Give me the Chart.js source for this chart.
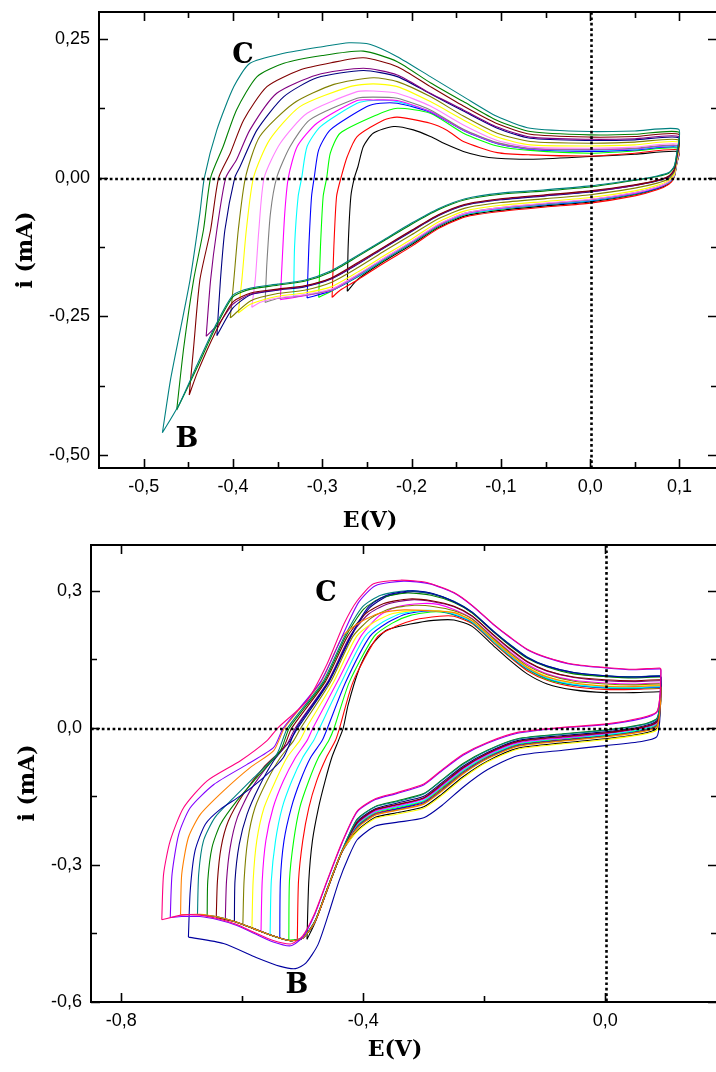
<!DOCTYPE html>
<html><head><meta charset="utf-8">
<script src="https://cdn.jsdelivr.net/npm/chart.js@4.4.1/dist/chart.umd.min.js"></script>
<style>
html,body{margin:0;padding:0;background:#fff;width:716px;height:1072px;overflow:hidden;}
canvas{position:absolute;left:0;}
#c1{top:0;} #c2{top:536px;}
</style></head><body>
<canvas id="c1" width="740" height="536"></canvas>
<canvas id="c2" width="740" height="536"></canvas>
<script>
// ---------- tick labels ----------
const topXTicks = [-0.5,-0.4,-0.3,-0.2,-0.1,0.0,0.1];
const topXMinor = [-0.45,-0.35,-0.25,-0.15,-0.05,0.05];
const topYTicks = [0.25,0.0,-0.25,-0.5];
const topYMinor = [0.125,-0.125,-0.375];
const botXTicks = [-0.8,-0.4,0.0];
const botXMinor = [-0.6,-0.2];
const botYTicks = [0.3,0.0,-0.3,-0.6];
const botYMinor = [0.15,-0.15,-0.45];

// ---------- top panel curves [E (V), i (mA)] ----------
const topTeal = [[-0.479,-0.460],[-0.470,-0.365],[-0.459,-0.275],[-0.448,-0.184],[-0.437,-0.064],[-0.432,0.000],[-0.418,0.086],[-0.399,0.164],[-0.381,0.206],[-0.343,0.224],[-0.300,0.236],[-0.270,0.243],[-0.246,0.240],[-0.216,0.218],[-0.179,0.182],[-0.142,0.146],[-0.104,0.110],[-0.067,0.089],[0.000,0.083],[0.050,0.084],[0.099,0.087],[0.097,0.045],[0.094,0.020],[0.088,0.009],[0.075,0.003],[0.050,-0.004],[0.000,-0.015],[-0.050,-0.022],[-0.100,-0.028],[-0.140,-0.038],[-0.170,-0.056],[-0.200,-0.082],[-0.230,-0.111],[-0.260,-0.140],[-0.290,-0.168],[-0.320,-0.185],[-0.350,-0.192],[-0.380,-0.199],[-0.400,-0.212],[-0.420,-0.268],[-0.440,-0.337],[-0.460,-0.408],[-0.479,-0.460]];
const topGreen = [[-0.463,-0.419],[-0.455,-0.305],[-0.444,-0.184],[-0.433,-0.094],[-0.425,0.000],[-0.411,0.056],[-0.396,0.122],[-0.373,0.182],[-0.343,0.206],[-0.300,0.220],[-0.254,0.228],[-0.216,0.209],[-0.179,0.171],[-0.142,0.137],[-0.104,0.103],[-0.067,0.083],[0.000,0.077],[0.050,0.078],[0.099,0.082],[0.097,0.044],[0.094,0.019],[0.088,0.008],[0.075,0.002],[0.050,-0.005],[0.000,-0.017],[-0.050,-0.024],[-0.100,-0.030],[-0.140,-0.040],[-0.170,-0.058],[-0.200,-0.084],[-0.230,-0.113],[-0.260,-0.142],[-0.290,-0.170],[-0.320,-0.187],[-0.350,-0.194],[-0.380,-0.201],[-0.400,-0.215],[-0.420,-0.272],[-0.440,-0.342],[-0.463,-0.419]];
const topWine = [[-0.449,-0.392],[-0.444,-0.305],[-0.437,-0.184],[-0.425,-0.094],[-0.416,0.000],[-0.403,0.044],[-0.388,0.104],[-0.362,0.164],[-0.325,0.194],[-0.290,0.207],[-0.254,0.216],[-0.216,0.200],[-0.179,0.164],[-0.142,0.129],[-0.104,0.097],[-0.067,0.078],[0.000,0.073],[0.050,0.074],[0.099,0.078],[0.097,0.039],[0.094,0.014],[0.088,0.003],[0.075,-0.005],[0.050,-0.013],[0.000,-0.024],[-0.050,-0.031],[-0.100,-0.038],[-0.140,-0.048],[-0.170,-0.067],[-0.200,-0.095],[-0.230,-0.124],[-0.260,-0.153],[-0.290,-0.181],[-0.320,-0.195],[-0.350,-0.201],[-0.380,-0.208],[-0.400,-0.224],[-0.420,-0.280],[-0.440,-0.352],[-0.449,-0.392]];
const topPurple = [[-0.430,-0.286],[-0.425,-0.184],[-0.418,-0.094],[-0.408,0.000],[-0.396,0.032],[-0.381,0.086],[-0.351,0.152],[-0.306,0.185],[-0.254,0.197],[-0.216,0.185],[-0.179,0.152],[-0.142,0.122],[-0.104,0.091],[-0.067,0.073],[0.000,0.069],[0.050,0.070],[0.099,0.074],[0.097,0.038],[0.094,0.013],[0.088,0.002],[0.075,-0.005],[0.050,-0.014],[0.000,-0.025],[-0.050,-0.032],[-0.100,-0.039],[-0.140,-0.049],[-0.170,-0.068],[-0.200,-0.096],[-0.230,-0.125],[-0.260,-0.155],[-0.290,-0.182],[-0.320,-0.196],[-0.350,-0.202],[-0.380,-0.210],[-0.400,-0.228],[-0.415,-0.262],[-0.430,-0.286]];
const topNavy = [[-0.418,-0.285],[-0.414,-0.184],[-0.409,-0.094],[-0.398,0.000],[-0.392,0.020],[-0.373,0.086],[-0.343,0.146],[-0.306,0.180],[-0.254,0.193],[-0.216,0.182],[-0.179,0.151],[-0.142,0.120],[-0.104,0.089],[-0.067,0.071],[0.000,0.067],[0.050,0.068],[0.099,0.072],[0.097,0.038],[0.094,0.013],[0.088,0.001],[0.075,-0.006],[0.050,-0.014],[0.000,-0.026],[-0.050,-0.033],[-0.100,-0.040],[-0.140,-0.050],[-0.170,-0.069],[-0.200,-0.097],[-0.230,-0.126],[-0.260,-0.156],[-0.290,-0.183],[-0.320,-0.197],[-0.350,-0.203],[-0.380,-0.211],[-0.400,-0.235],[-0.418,-0.285]];
const topOlive = [[-0.403,-0.253],[-0.399,-0.184],[-0.394,-0.094],[-0.386,0.000],[-0.370,0.074],[-0.332,0.134],[-0.287,0.168],[-0.243,0.180],[-0.216,0.173],[-0.179,0.146],[-0.142,0.111],[-0.104,0.080],[-0.067,0.065],[0.000,0.062],[0.050,0.064],[0.099,0.068],[0.097,0.035],[0.094,0.010],[0.088,-0.002],[0.075,-0.010],[0.050,-0.019],[0.000,-0.031],[-0.050,-0.038],[-0.100,-0.045],[-0.140,-0.055],[-0.170,-0.074],[-0.200,-0.103],[-0.230,-0.132],[-0.260,-0.162],[-0.290,-0.189],[-0.320,-0.203],[-0.350,-0.209],[-0.380,-0.222],[-0.403,-0.253]];
const topYellow = [[-0.394,-0.244],[-0.390,-0.184],[-0.385,-0.094],[-0.377,0.000],[-0.359,0.068],[-0.325,0.128],[-0.269,0.164],[-0.243,0.169],[-0.216,0.164],[-0.179,0.137],[-0.142,0.104],[-0.104,0.073],[-0.067,0.059],[0.000,0.057],[0.050,0.059],[0.099,0.064],[0.097,0.031],[0.094,0.006],[0.088,-0.005],[0.075,-0.014],[0.050,-0.024],[0.000,-0.036],[-0.050,-0.043],[-0.100,-0.050],[-0.140,-0.060],[-0.170,-0.080],[-0.200,-0.111],[-0.230,-0.140],[-0.260,-0.170],[-0.290,-0.197],[-0.320,-0.208],[-0.350,-0.214],[-0.380,-0.228],[-0.394,-0.244]];
const topPink = [[-0.379,-0.234],[-0.375,-0.184],[-0.371,-0.094],[-0.365,0.000],[-0.347,0.062],[-0.317,0.116],[-0.261,0.155],[-0.243,0.156],[-0.216,0.152],[-0.179,0.129],[-0.142,0.095],[-0.104,0.067],[-0.067,0.055],[0.000,0.053],[0.050,0.055],[0.099,0.060],[0.097,0.029],[0.094,0.004],[0.088,-0.007],[0.075,-0.017],[0.050,-0.027],[0.000,-0.039],[-0.050,-0.046],[-0.100,-0.054],[-0.140,-0.064],[-0.170,-0.084],[-0.200,-0.115],[-0.230,-0.144],[-0.260,-0.174],[-0.290,-0.201],[-0.320,-0.211],[-0.350,-0.217],[-0.370,-0.225],[-0.379,-0.234]];
const topGray = [[-0.364,-0.225],[-0.362,-0.154],[-0.358,-0.064],[-0.351,0.000],[-0.336,0.056],[-0.314,0.104],[-0.261,0.143],[-0.243,0.145],[-0.216,0.143],[-0.179,0.122],[-0.142,0.087],[-0.104,0.063],[-0.067,0.053],[0.000,0.051],[0.050,0.053],[0.099,0.058],[0.097,0.029],[0.094,0.004],[0.088,-0.008],[0.075,-0.017],[0.050,-0.027],[0.000,-0.040],[-0.050,-0.047],[-0.100,-0.054],[-0.140,-0.064],[-0.170,-0.085],[-0.200,-0.116],[-0.230,-0.145],[-0.260,-0.175],[-0.290,-0.202],[-0.320,-0.212],[-0.350,-0.218],[-0.364,-0.225]];
const topMagenta = [[-0.347,-0.220],[-0.345,-0.154],[-0.342,-0.064],[-0.338,0.000],[-0.328,0.056],[-0.306,0.098],[-0.261,0.139],[-0.243,0.140],[-0.216,0.139],[-0.179,0.119],[-0.142,0.086],[-0.104,0.062],[-0.067,0.052],[0.000,0.050],[0.050,0.052],[0.099,0.057],[0.097,0.029],[0.094,0.004],[0.088,-0.008],[0.075,-0.018],[0.050,-0.028],[0.000,-0.040],[-0.050,-0.047],[-0.100,-0.055],[-0.140,-0.065],[-0.170,-0.086],[-0.200,-0.116],[-0.230,-0.145],[-0.260,-0.176],[-0.290,-0.203],[-0.320,-0.213],[-0.347,-0.220]];
const topCyan = [[-0.332,-0.216],[-0.331,-0.124],[-0.327,-0.034],[-0.323,0.000],[-0.317,0.056],[-0.302,0.092],[-0.261,0.134],[-0.243,0.139],[-0.216,0.137],[-0.179,0.119],[-0.142,0.086],[-0.104,0.062],[-0.067,0.052],[0.000,0.049],[0.050,0.051],[0.099,0.056],[0.097,0.028],[0.094,0.003],[0.088,-0.009],[0.075,-0.018],[0.050,-0.028],[0.000,-0.041],[-0.050,-0.048],[-0.100,-0.056],[-0.140,-0.066],[-0.170,-0.086],[-0.200,-0.117],[-0.230,-0.146],[-0.260,-0.177],[-0.290,-0.203],[-0.320,-0.212],[-0.332,-0.216]];
const topBlue = [[-0.317,-0.217],[-0.315,-0.124],[-0.312,-0.034],[-0.309,0.000],[-0.304,0.050],[-0.291,0.086],[-0.250,0.128],[-0.235,0.134],[-0.216,0.134],[-0.179,0.118],[-0.142,0.085],[-0.104,0.061],[-0.067,0.051],[0.000,0.047],[0.050,0.050],[0.099,0.055],[0.097,0.028],[0.094,0.003],[0.088,-0.009],[0.075,-0.019],[0.050,-0.029],[0.000,-0.042],[-0.050,-0.049],[-0.100,-0.056],[-0.140,-0.066],[-0.170,-0.087],[-0.200,-0.118],[-0.230,-0.147],[-0.260,-0.178],[-0.290,-0.204],[-0.317,-0.217]];
const topLime = [[-0.304,-0.216],[-0.302,-0.124],[-0.299,-0.034],[-0.295,0.000],[-0.291,0.044],[-0.280,0.080],[-0.239,0.113],[-0.216,0.125],[-0.179,0.116],[-0.142,0.080],[-0.104,0.057],[-0.067,0.049],[0.000,0.044],[0.050,0.048],[0.099,0.053],[0.097,0.027],[0.094,0.002],[0.088,-0.009],[0.075,-0.019],[0.050,-0.030],[0.000,-0.042],[-0.050,-0.049],[-0.100,-0.057],[-0.140,-0.067],[-0.170,-0.088],[-0.200,-0.119],[-0.230,-0.148],[-0.260,-0.179],[-0.290,-0.205],[-0.304,-0.216]];
const topRed = [[-0.289,-0.216],[-0.287,-0.124],[-0.284,-0.034],[-0.279,0.000],[-0.272,0.038],[-0.261,0.074],[-0.231,0.104],[-0.216,0.109],[-0.179,0.098],[-0.160,0.085],[-0.142,0.065],[-0.104,0.045],[-0.067,0.041],[0.000,0.039],[0.050,0.044],[0.099,0.050],[0.097,0.025],[0.094,0.000],[0.088,-0.012],[0.075,-0.022],[0.050,-0.033],[0.000,-0.046],[-0.050,-0.053],[-0.100,-0.061],[-0.140,-0.071],[-0.170,-0.092],[-0.200,-0.124],[-0.230,-0.153],[-0.260,-0.184],[-0.280,-0.203],[-0.289,-0.216]];
const topBlack = [[-0.272,-0.205],[-0.271,-0.124],[-0.268,-0.034],[-0.264,0.000],[-0.260,0.020],[-0.254,0.056],[-0.243,0.080],[-0.220,0.092],[-0.198,0.086],[-0.179,0.074],[-0.160,0.059],[-0.142,0.047],[-0.123,0.039],[-0.104,0.035],[-0.067,0.033],[0.000,0.038],[0.050,0.042],[0.099,0.047],[0.097,0.026],[0.094,0.001],[0.088,-0.011],[0.075,-0.020],[0.050,-0.031],[0.000,-0.044],[-0.050,-0.051],[-0.100,-0.059],[-0.140,-0.069],[-0.170,-0.090],[-0.200,-0.121],[-0.230,-0.150],[-0.260,-0.183],[-0.272,-0.205]];
const topCurves = [topTeal, topGreen, topWine, topPurple, topNavy, topOlive, topYellow, topPink, topGray, topMagenta, topCyan, topBlue, topLime, topRed, topBlack];
const topColors = ['#008080','#008000','#800000','#800080','#000080','#808000','#ffff00','#ff80ff','#808080','#ff00ff','#00ffff','#0000ff','#00ff00','#ff0000','#000000'];

// ---------- bottom panel curves [E (V), i (mA)] ----------
const botPink = [[-0.733,-0.420],[-0.730,-0.320],[-0.719,-0.247],[-0.697,-0.175],[-0.658,-0.116],[-0.603,-0.072],[-0.559,-0.028],[-0.541,0.000],[-0.493,0.059],[-0.460,0.139],[-0.432,0.227],[-0.410,0.278],[-0.383,0.315],[-0.339,0.323],[-0.295,0.318],[-0.250,0.296],[-0.220,0.268],[-0.185,0.227],[-0.157,0.198],[-0.129,0.172],[-0.096,0.154],[-0.052,0.139],[0.000,0.132],[0.047,0.128],[0.090,0.131],[0.092,0.128],[0.090,0.065],[0.085,0.035],[0.060,0.022],[0.000,0.008],[-0.070,0.001],[-0.145,-0.010],[-0.195,-0.032],[-0.235,-0.058],[-0.270,-0.092],[-0.300,-0.123],[-0.345,-0.142],[-0.380,-0.155],[-0.410,-0.182],[-0.435,-0.250],[-0.460,-0.335],[-0.480,-0.405],[-0.500,-0.455],[-0.520,-0.473],[-0.550,-0.465],[-0.580,-0.448],[-0.610,-0.430],[-0.640,-0.418],[-0.670,-0.410],[-0.700,-0.410],[-0.733,-0.420]];
const botViolet = [[-0.719,-0.415],[-0.716,-0.320],[-0.705,-0.233],[-0.686,-0.175],[-0.647,-0.124],[-0.592,-0.080],[-0.548,-0.043],[-0.532,0.000],[-0.471,0.100],[-0.435,0.200],[-0.408,0.274],[-0.380,0.311],[-0.333,0.321],[-0.290,0.315],[-0.250,0.295],[-0.220,0.267],[-0.185,0.226],[-0.157,0.197],[-0.129,0.171],[-0.096,0.153],[-0.052,0.138],[0.000,0.131],[0.047,0.127],[0.090,0.129],[0.092,0.126],[0.090,0.063],[0.085,0.033],[0.060,0.020],[0.000,0.007],[-0.070,0.000],[-0.145,-0.012],[-0.195,-0.034],[-0.235,-0.060],[-0.270,-0.094],[-0.300,-0.125],[-0.345,-0.144],[-0.380,-0.157],[-0.410,-0.184],[-0.435,-0.252],[-0.460,-0.337],[-0.480,-0.408],[-0.500,-0.458],[-0.520,-0.477],[-0.550,-0.468],[-0.580,-0.450],[-0.610,-0.432],[-0.640,-0.420],[-0.670,-0.413],[-0.700,-0.413],[-0.719,-0.415]];
const botOrange = [[-0.702,-0.409],[-0.700,-0.320],[-0.689,-0.240],[-0.669,-0.189],[-0.631,-0.138],[-0.587,-0.087],[-0.548,-0.050],[-0.530,0.000],[-0.470,0.100],[-0.434,0.200],[-0.404,0.232],[-0.374,0.250],[-0.332,0.258],[-0.290,0.256],[-0.250,0.252],[-0.220,0.234],[-0.185,0.192],[-0.157,0.160],[-0.129,0.132],[-0.096,0.111],[-0.052,0.098],[0.000,0.091],[0.047,0.090],[0.090,0.092],[0.092,0.089],[0.090,0.032],[0.085,0.002],[0.060,-0.009],[0.000,-0.020],[-0.070,-0.029],[-0.145,-0.041],[-0.195,-0.068],[-0.235,-0.101],[-0.270,-0.139],[-0.300,-0.167],[-0.345,-0.181],[-0.380,-0.191],[-0.410,-0.220],[-0.435,-0.270],[-0.460,-0.355],[-0.480,-0.425],[-0.500,-0.460],[-0.520,-0.466],[-0.550,-0.455],[-0.580,-0.440],[-0.610,-0.425],[-0.640,-0.414],[-0.670,-0.408],[-0.702,-0.409]];
const botRoyal = [[-0.689,-0.458],[-0.686,-0.357],[-0.678,-0.269],[-0.661,-0.211],[-0.636,-0.178],[-0.603,-0.149],[-0.565,-0.109],[-0.532,-0.065],[-0.510,0.000],[-0.458,0.100],[-0.421,0.200],[-0.391,0.265],[-0.361,0.290],[-0.319,0.300],[-0.285,0.294],[-0.250,0.276],[-0.220,0.253],[-0.185,0.211],[-0.157,0.181],[-0.129,0.154],[-0.096,0.135],[-0.052,0.121],[0.000,0.114],[0.047,0.111],[0.090,0.113],[0.092,0.110],[0.090,0.015],[0.085,-0.020],[0.060,-0.030],[0.000,-0.039],[-0.070,-0.049],[-0.145,-0.061],[-0.195,-0.092],[-0.235,-0.130],[-0.270,-0.170],[-0.300,-0.197],[-0.345,-0.207],[-0.380,-0.215],[-0.410,-0.245],[-0.425,-0.285],[-0.440,-0.335],[-0.458,-0.410],[-0.475,-0.475],[-0.495,-0.515],[-0.512,-0.527],[-0.537,-0.522],[-0.576,-0.503],[-0.631,-0.472],[-0.689,-0.458]];
const botTeal = [[-0.674,-0.408],[-0.672,-0.320],[-0.664,-0.247],[-0.645,-0.196],[-0.614,-0.153],[-0.581,-0.109],[-0.543,-0.058],[-0.525,0.000],[-0.467,0.100],[-0.431,0.200],[-0.401,0.265],[-0.371,0.290],[-0.329,0.300],[-0.290,0.295],[-0.250,0.277],[-0.220,0.253],[-0.185,0.212],[-0.157,0.182],[-0.129,0.155],[-0.096,0.135],[-0.052,0.121],[0.000,0.114],[0.047,0.112],[0.090,0.114],[0.092,0.111],[0.090,0.049],[0.085,0.019],[0.060,0.006],[0.000,-0.006],[-0.070,-0.014],[-0.145,-0.025],[-0.195,-0.050],[-0.235,-0.080],[-0.270,-0.115],[-0.300,-0.145],[-0.345,-0.162],[-0.380,-0.173],[-0.410,-0.201],[-0.435,-0.268],[-0.460,-0.353],[-0.480,-0.423],[-0.500,-0.459],[-0.520,-0.466],[-0.550,-0.455],[-0.580,-0.440],[-0.610,-0.425],[-0.640,-0.414],[-0.674,-0.408]];
const botDkGreen = [[-0.658,-0.411],[-0.657,-0.335],[-0.650,-0.262],[-0.636,-0.211],[-0.609,-0.160],[-0.576,-0.109],[-0.537,-0.050],[-0.522,0.000],[-0.465,0.100],[-0.429,0.200],[-0.399,0.260],[-0.369,0.285],[-0.327,0.295],[-0.288,0.290],[-0.250,0.274],[-0.220,0.251],[-0.185,0.210],[-0.157,0.179],[-0.129,0.152],[-0.096,0.133],[-0.052,0.118],[0.000,0.112],[0.047,0.109],[0.090,0.111],[0.092,0.108],[0.090,0.050],[0.085,0.020],[0.060,0.007],[0.000,-0.005],[-0.070,-0.013],[-0.145,-0.024],[-0.195,-0.049],[-0.235,-0.078],[-0.270,-0.114],[-0.300,-0.144],[-0.345,-0.160],[-0.380,-0.172],[-0.410,-0.200],[-0.435,-0.269],[-0.460,-0.354],[-0.480,-0.424],[-0.500,-0.460],[-0.520,-0.466],[-0.550,-0.455],[-0.580,-0.440],[-0.610,-0.425],[-0.640,-0.414],[-0.658,-0.411]];
const botWine = [[-0.643,-0.415],[-0.641,-0.335],[-0.635,-0.262],[-0.623,-0.204],[-0.598,-0.145],[-0.565,-0.087],[-0.532,-0.043],[-0.518,0.000],[-0.463,0.100],[-0.426,0.200],[-0.396,0.250],[-0.366,0.272],[-0.324,0.282],[-0.287,0.278],[-0.250,0.266],[-0.220,0.245],[-0.185,0.204],[-0.157,0.173],[-0.129,0.145],[-0.096,0.125],[-0.052,0.111],[0.000,0.105],[0.047,0.103],[0.090,0.105],[0.092,0.102],[0.090,0.043],[0.085,0.013],[0.060,0.001],[0.000,-0.011],[-0.070,-0.019],[-0.145,-0.030],[-0.195,-0.056],[-0.235,-0.087],[-0.270,-0.123],[-0.300,-0.153],[-0.345,-0.168],[-0.380,-0.179],[-0.410,-0.207],[-0.435,-0.270],[-0.460,-0.355],[-0.480,-0.425],[-0.500,-0.460],[-0.520,-0.466],[-0.550,-0.455],[-0.580,-0.440],[-0.610,-0.425],[-0.643,-0.415]];
const botPurple = [[-0.628,-0.419],[-0.626,-0.335],[-0.620,-0.262],[-0.608,-0.196],[-0.587,-0.138],[-0.556,-0.080],[-0.526,-0.036],[-0.512,0.000],[-0.459,0.100],[-0.422,0.200],[-0.392,0.248],[-0.362,0.270],[-0.320,0.280],[-0.285,0.276],[-0.250,0.265],[-0.220,0.244],[-0.185,0.203],[-0.157,0.171],[-0.129,0.144],[-0.096,0.124],[-0.052,0.110],[0.000,0.103],[0.047,0.101],[0.090,0.103],[0.092,0.100],[0.090,0.042],[0.085,0.012],[0.060,0.000],[0.000,-0.012],[-0.070,-0.020],[-0.145,-0.031],[-0.195,-0.057],[-0.235,-0.088],[-0.270,-0.125],[-0.300,-0.154],[-0.345,-0.169],[-0.380,-0.180],[-0.410,-0.209],[-0.435,-0.270],[-0.460,-0.355],[-0.480,-0.425],[-0.500,-0.460],[-0.520,-0.466],[-0.550,-0.455],[-0.580,-0.440],[-0.610,-0.425],[-0.628,-0.419]];
const botNavy = [[-0.613,-0.424],[-0.612,-0.335],[-0.605,-0.255],[-0.592,-0.189],[-0.573,-0.131],[-0.548,-0.072],[-0.521,-0.028],[-0.508,0.000],[-0.457,0.100],[-0.420,0.200],[-0.390,0.262],[-0.360,0.288],[-0.318,0.298],[-0.284,0.292],[-0.250,0.276],[-0.220,0.252],[-0.185,0.211],[-0.157,0.181],[-0.129,0.154],[-0.096,0.134],[-0.052,0.120],[0.000,0.113],[0.047,0.111],[0.090,0.113],[0.092,0.110],[0.090,0.045],[0.085,0.015],[0.060,0.003],[0.000,-0.009],[-0.070,-0.017],[-0.145,-0.028],[-0.195,-0.054],[-0.235,-0.084],[-0.270,-0.120],[-0.300,-0.150],[-0.345,-0.165],[-0.380,-0.177],[-0.410,-0.205],[-0.435,-0.270],[-0.460,-0.355],[-0.480,-0.425],[-0.500,-0.460],[-0.520,-0.466],[-0.550,-0.455],[-0.580,-0.440],[-0.613,-0.424]];
const botDkYellow = [[-0.599,-0.431],[-0.597,-0.335],[-0.591,-0.247],[-0.579,-0.175],[-0.559,-0.116],[-0.537,-0.065],[-0.515,-0.028],[-0.503,0.000],[-0.454,0.100],[-0.417,0.200],[-0.387,0.240],[-0.357,0.260],[-0.315,0.268],[-0.282,0.265],[-0.250,0.256],[-0.220,0.238],[-0.185,0.196],[-0.157,0.164],[-0.129,0.136],[-0.096,0.116],[-0.052,0.102],[0.000,0.096],[0.047,0.094],[0.090,0.096],[0.092,0.093],[0.090,0.033],[0.085,0.003],[0.060,-0.008],[0.000,-0.019],[-0.070,-0.028],[-0.145,-0.040],[-0.195,-0.067],[-0.235,-0.100],[-0.270,-0.137],[-0.300,-0.166],[-0.345,-0.180],[-0.380,-0.190],[-0.410,-0.219],[-0.435,-0.270],[-0.460,-0.355],[-0.480,-0.425],[-0.500,-0.460],[-0.520,-0.466],[-0.550,-0.455],[-0.580,-0.440],[-0.599,-0.431]];
const botYellow = [[-0.584,-0.438],[-0.582,-0.335],[-0.576,-0.247],[-0.564,-0.175],[-0.545,-0.116],[-0.526,-0.065],[-0.505,-0.028],[-0.494,0.000],[-0.449,0.100],[-0.411,0.200],[-0.381,0.232],[-0.351,0.250],[-0.309,0.257],[-0.280,0.256],[-0.250,0.252],[-0.220,0.234],[-0.185,0.193],[-0.157,0.161],[-0.129,0.133],[-0.096,0.112],[-0.052,0.098],[0.000,0.092],[0.047,0.091],[0.090,0.093],[0.092,0.090],[0.090,0.025],[0.085,-0.005],[0.060,-0.015],[0.000,-0.026],[-0.070,-0.035],[-0.145,-0.047],[-0.195,-0.075],[-0.235,-0.110],[-0.270,-0.148],[-0.300,-0.176],[-0.345,-0.189],[-0.380,-0.198],[-0.410,-0.227],[-0.435,-0.270],[-0.460,-0.355],[-0.480,-0.425],[-0.500,-0.460],[-0.520,-0.466],[-0.550,-0.455],[-0.584,-0.438]];
const botMagenta = [[-0.569,-0.446],[-0.567,-0.335],[-0.561,-0.247],[-0.549,-0.175],[-0.532,-0.116],[-0.512,-0.065],[-0.493,-0.028],[-0.483,0.000],[-0.443,0.100],[-0.404,0.200],[-0.374,0.245],[-0.344,0.265],[-0.302,0.272],[-0.276,0.270],[-0.250,0.259],[-0.220,0.239],[-0.185,0.198],[-0.157,0.166],[-0.129,0.139],[-0.096,0.118],[-0.052,0.104],[0.000,0.098],[0.047,0.096],[0.090,0.098],[0.092,0.095],[0.090,0.040],[0.085,0.010],[0.060,-0.001],[0.000,-0.013],[-0.070,-0.022],[-0.145,-0.033],[-0.195,-0.059],[-0.235,-0.090],[-0.270,-0.127],[-0.300,-0.156],[-0.345,-0.171],[-0.380,-0.182],[-0.410,-0.210],[-0.435,-0.270],[-0.460,-0.355],[-0.480,-0.425],[-0.500,-0.460],[-0.520,-0.466],[-0.550,-0.455],[-0.569,-0.446]];
const botCyan = [[-0.554,-0.454],[-0.552,-0.335],[-0.545,-0.247],[-0.534,-0.175],[-0.518,-0.116],[-0.500,-0.065],[-0.482,-0.028],[-0.472,0.000],[-0.436,0.100],[-0.397,0.200],[-0.367,0.232],[-0.337,0.250],[-0.295,0.257],[-0.272,0.255],[-0.250,0.249],[-0.220,0.232],[-0.185,0.190],[-0.157,0.158],[-0.129,0.130],[-0.096,0.109],[-0.052,0.095],[0.000,0.089],[0.047,0.088],[0.090,0.090],[0.092,0.087],[0.090,0.039],[0.085,0.009],[0.060,-0.003],[0.000,-0.015],[-0.070,-0.023],[-0.145,-0.035],[-0.195,-0.061],[-0.235,-0.093],[-0.270,-0.129],[-0.300,-0.159],[-0.345,-0.173],[-0.380,-0.184],[-0.410,-0.212],[-0.435,-0.270],[-0.460,-0.355],[-0.480,-0.425],[-0.500,-0.460],[-0.520,-0.466],[-0.554,-0.454]];
const botBlue = [[-0.538,-0.460],[-0.537,-0.335],[-0.531,-0.247],[-0.519,-0.175],[-0.504,-0.116],[-0.487,-0.065],[-0.468,-0.028],[-0.459,0.000],[-0.429,0.100],[-0.389,0.200],[-0.359,0.231],[-0.329,0.249],[-0.287,0.256],[-0.268,0.254],[-0.250,0.248],[-0.220,0.231],[-0.185,0.189],[-0.157,0.157],[-0.129,0.129],[-0.096,0.108],[-0.052,0.094],[0.000,0.088],[0.047,0.087],[0.090,0.089],[0.092,0.086],[0.090,0.034],[0.085,0.004],[0.060,-0.007],[0.000,-0.018],[-0.070,-0.027],[-0.145,-0.039],[-0.195,-0.066],[-0.235,-0.098],[-0.270,-0.136],[-0.300,-0.164],[-0.345,-0.178],[-0.380,-0.189],[-0.410,-0.217],[-0.435,-0.270],[-0.460,-0.355],[-0.480,-0.425],[-0.500,-0.460],[-0.520,-0.466],[-0.538,-0.460]];
const botLime = [[-0.523,-0.465],[-0.522,-0.335],[-0.515,-0.247],[-0.505,-0.175],[-0.490,-0.116],[-0.474,-0.065],[-0.457,-0.028],[-0.448,0.000],[-0.423,0.100],[-0.382,0.200],[-0.352,0.229],[-0.322,0.246],[-0.280,0.254],[-0.250,0.247],[-0.220,0.230],[-0.185,0.188],[-0.157,0.156],[-0.129,0.128],[-0.096,0.106],[-0.052,0.093],[0.000,0.087],[0.047,0.086],[0.090,0.088],[0.092,0.085],[0.090,0.038],[0.085,0.008],[0.060,-0.004],[0.000,-0.016],[-0.070,-0.024],[-0.145,-0.036],[-0.195,-0.062],[-0.235,-0.094],[-0.270,-0.131],[-0.300,-0.160],[-0.345,-0.175],[-0.380,-0.185],[-0.410,-0.214],[-0.435,-0.270],[-0.460,-0.355],[-0.480,-0.425],[-0.500,-0.460],[-0.523,-0.465]];
const botRed = [[-0.509,-0.465],[-0.507,-0.335],[-0.500,-0.247],[-0.490,-0.175],[-0.477,-0.116],[-0.461,-0.065],[-0.446,-0.028],[-0.439,0.000],[-0.417,0.100],[-0.376,0.200],[-0.346,0.222],[-0.316,0.236],[-0.274,0.244],[-0.250,0.244],[-0.220,0.228],[-0.185,0.186],[-0.157,0.154],[-0.129,0.125],[-0.096,0.104],[-0.052,0.090],[0.000,0.084],[0.047,0.084],[0.090,0.086],[0.092,0.083],[0.090,0.036],[0.085,0.006],[0.060,-0.006],[0.000,-0.017],[-0.070,-0.026],[-0.145,-0.037],[-0.195,-0.064],[-0.235,-0.096],[-0.270,-0.133],[-0.300,-0.162],[-0.345,-0.177],[-0.380,-0.187],[-0.410,-0.215],[-0.435,-0.270],[-0.460,-0.355],[-0.480,-0.425],[-0.500,-0.460],[-0.509,-0.465]];
const botBlack = [[-0.493,-0.463],[-0.490,-0.335],[-0.484,-0.247],[-0.474,-0.175],[-0.463,-0.116],[-0.452,-0.065],[-0.441,-0.028],[-0.433,0.000],[-0.425,0.050],[-0.407,0.128],[-0.388,0.178],[-0.361,0.214],[-0.322,0.227],[-0.284,0.235],[-0.250,0.236],[-0.220,0.222],[-0.185,0.180],[-0.157,0.147],[-0.129,0.118],[-0.096,0.096],[-0.052,0.083],[0.000,0.077],[0.047,0.077],[0.090,0.079],[0.092,0.076],[0.090,0.028],[0.085,-0.002],[0.060,-0.013],[0.000,-0.024],[-0.070,-0.033],[-0.145,-0.045],[-0.195,-0.073],[-0.235,-0.107],[-0.270,-0.145],[-0.300,-0.173],[-0.345,-0.186],[-0.380,-0.196],[-0.410,-0.225],[-0.435,-0.272],[-0.460,-0.357],[-0.480,-0.427],[-0.493,-0.463]];
const botCurves = [botPink, botViolet, botOrange, botRoyal, botTeal, botDkGreen, botWine, botPurple, botNavy, botDkYellow, botYellow, botMagenta, botCyan, botBlue, botLime, botRed, botBlack];
const botColors = ['#ff0080','#8000ff','#ff8000','#0000a0','#008080','#008000','#800000','#800080','#000080','#808000','#ffff00','#ff00ff','#00ffff','#0000ff','#00ff00','#ff0000','#000000'];

// ---------- helpers ----------
function fmt(v, d){ const s = (Math.abs(v) < 1e-9 ? 0 : v).toFixed(d); return s.replace('.', ','); }
const TICK_FONT = {family: '"Liberation Sans", Arial, sans-serif', size: 18};
const TITLE_FONT = 'bold 22px "DejaVu Serif", serif';
const LETTER_FONT = 'bold 27px "DejaVu Serif", serif';

function decorPlugin(cfg){
  return {
    id: 'decor',
    afterDatasetsDraw(chart){
      const ctx = chart.ctx, a = chart.chartArea, xs = chart.scales.x, ys = chart.scales.y;
      ctx.save();
      ctx.strokeStyle = '#000';
      ctx.lineWidth = 2.6; ctx.setLineDash([2.7, 2.7]); ctx.lineCap = 'butt';
      const y0 = Math.round(ys.getPixelForValue(0)) + 1;
      const x0 = Math.round(xs.getPixelForValue(0)) + 1.5;
      ctx.beginPath(); ctx.moveTo(a.left, y0); ctx.lineTo(a.right, y0); ctx.stroke();
      ctx.beginPath(); ctx.moveTo(x0, a.top); ctx.lineTo(x0, a.bottom); ctx.stroke();
      ctx.setLineDash([]);
      ctx.lineWidth = 2;
      ctx.strokeRect(a.left, a.top, a.right - a.left, a.bottom - a.top);
      ctx.lineWidth = 1.6;
      const drawX = (vals, len) => vals.forEach(v => {
        const p = Math.round(xs.getPixelForValue(v)) + 0.5;
        ctx.beginPath(); ctx.moveTo(p, a.bottom); ctx.lineTo(p, a.bottom - len);
        ctx.moveTo(p, a.top); ctx.lineTo(p, a.top + len); ctx.stroke();
      });
      const drawY = (vals, len) => vals.forEach(v => {
        const p = Math.round(ys.getPixelForValue(v)) + 0.5;
        ctx.beginPath(); ctx.moveTo(a.left, p); ctx.lineTo(a.left + len, p);
        ctx.moveTo(a.right, p); ctx.lineTo(a.right - len, p); ctx.stroke();
      });
      drawX(cfg.xMajor, 9); drawX(cfg.xMinor, 6);
      drawY(cfg.yMajor, 9); drawY(cfg.yMinor, 6);
      ctx.fillStyle = '#000';
      ctx.textAlign = 'center'; ctx.textBaseline = 'middle';
      cfg.texts.forEach(t => {
        ctx.save();
        ctx.font = t.font;
        ctx.translate(t.x, t.y);
        if (t.rot) ctx.rotate(t.rot);
        ctx.fillText(t.s, 0, 0);
        ctx.restore();
      });
      ctx.restore();
    }
  };
}

function noPad(s){ s.paddingTop = 0; s.paddingBottom = 0; s.paddingLeft = 0; s.paddingRight = 0; }

function makeChart(id, curves, colors, o){
  const datasets = curves.map((c, k) => ({
    data: c.map(p => ({x: p[0], y: p[1]})),
    borderColor: colors[k],
    borderWidth: 1.1,
    pointRadius: 0,
    showLine: true,
    fill: false,
    tension: 0.22,
    borderJoinStyle: 'round'
  }));
  return new Chart(document.getElementById(id), {
    type: 'scatter',
    data: {datasets},
    options: {
      responsive: false, animation: false, devicePixelRatio: 1,
      layout: {padding: o.padding},
      plugins: {legend: {display: false}, tooltip: {enabled: false}, title: {display: false}},
      scales: {
        x: {
          type: 'linear', min: o.xmin, max: o.xmax,
          afterBuildTicks: s => { s.ticks = o.xTicks.map(v => ({value: v})); },
          afterFit: s => { s.height = 60; noPad(s); },
          grid: {display: false, drawTicks: false}, border: {display: false},
          ticks: {padding: 8, color: '#000', font: TICK_FONT, autoSkip: false, maxRotation: 0,
                  callback: v => fmt(v, o.xDec)}
        },
        y: {
          type: 'linear', min: o.ymin, max: o.ymax,
          afterBuildTicks: s => { s.ticks = o.yTicks.map(v => ({value: v})); },
          afterFit: s => { s.width = o.yWidth; noPad(s); },
          grid: {display: false, drawTicks: false}, border: {display: false},
          ticks: {padding: 9, color: '#000', font: TICK_FONT, autoSkip: false,
                  callback: v => fmt(v, o.yDec)}
        }
      }
    },
    plugins: [decorPlugin(o.decor)]
  });
}

makeChart('c1', topCurves, topColors, {
  padding: {left: 0, top: 12, right: 23, bottom: 8},
  xmin: -0.55, xmax: 0.142, ymin: -0.5235, ymax: 0.2985,
  xTicks: topXTicks, yTicks: topYTicks, xDec: 1, yDec: 2, yWidth: 99,
  decor: {
    xMajor: topXTicks, xMinor: topXMinor, yMajor: topYTicks, yMinor: topYMinor,
    texts: [
      {s: 'E(V)', x: 370, y: 521, font: TITLE_FONT},
      {s: 'i (mA)', x: 26, y: 250, font: TITLE_FONT, rot: -Math.PI / 2},
      {s: 'C', x: 243, y: 56, font: LETTER_FONT},
      {s: 'B', x: 187, y: 440, font: LETTER_FONT}
    ]
  }
});

makeChart('c2', botCurves, botColors, {
  padding: {left: 0, top: 9, right: 23, bottom: 10},
  xmin: -0.85, xmax: 0.1847, ymin: -0.6, ymax: 0.4,
  xTicks: botXTicks, yTicks: botYTicks, xDec: 1, yDec: 1, yWidth: 91,
  decor: {
    xMajor: botXTicks, xMinor: botXMinor, yMajor: botYTicks, yMinor: botYMinor,
    texts: [
      {s: 'E(V)', x: 395, y: 514, font: TITLE_FONT},
      {s: 'i (mA)', x: 28, y: 247, font: TITLE_FONT, rot: -Math.PI / 2},
      {s: 'C', x: 326, y: 58, font: LETTER_FONT},
      {s: 'B', x: 297, y: 450, font: LETTER_FONT}
    ]
  }
});
</script>
</body></html>
